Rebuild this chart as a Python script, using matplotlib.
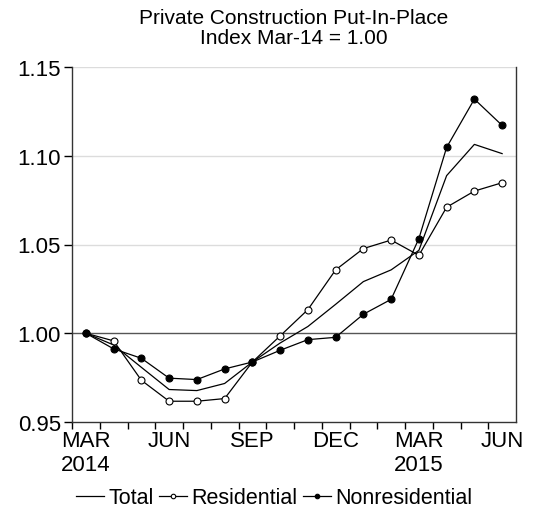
import matplotlib
matplotlib.use("Agg")
import matplotlib.pyplot as plt
import numpy as np

plt.rcParams['font.family'] = ['Liberation Sans', 'DejaVu Sans']

months = ["MAR\n2014", "", "", "JUN", "", "", "SEP", "", "", "DEC", "", "", "MAR\n2015", "", "", "JUN"]
total = [1.000, 0.9934, 0.9808, 0.9683, 0.9677, 0.9717, 0.9838, 0.9945, 1.0038, 1.0163,
         1.0291, 1.0357, 1.0467, 1.0888, 1.1064, 1.1012]
residential = [1.000, 0.9957, 0.9735, 0.9617, 0.9617, 0.9632, 0.9838, 0.9985, 1.0133, 1.0357,
               1.0477, 1.0525, 1.0439, 1.0710, 1.0801, 1.0848]
nonresidential = [1.000, 0.9912, 0.9859, 0.9747, 0.9739, 0.9799, 0.9838, 0.9904, 0.9964, 0.9977,
                  1.0107, 1.0191, 1.0533, 1.1047, 1.1319, 1.1171]
yticks = [0.95, 1.00, 1.05, 1.10, 1.15]

fig = plt.figure(figsize=(5.38, 5.10), dpi=100)
ax = fig.add_axes([72/538, 1-423/510, (516-72)/538, (423-68)/510])

x = np.arange(len(months))
for yv in yticks[2:]:
    ax.axhline(yv, color='#dcdcdc', lw=1.0, zorder=0)
ax.axhline(1.0, color='#555555', lw=1.0, zorder=1)

ax.plot(x, total, color='black', lw=0.9, label='Total', zorder=3)
ax.plot(x, residential, color='black', lw=0.9, marker='o', ms=5, mfc='white', mec='black',
        mew=0.8, label='Residential', zorder=3)
ax.plot(x, nonresidential, color='black', lw=0.9, marker='o', ms=5, mfc='black', mec='black',
        mew=0.8, label='Nonresidential', zorder=3)

ax.set_xlim(-0.5, len(months) - 0.5)
ax.set_ylim(0.95, 1.15)
ax.set_yticks(yticks)
ax.set_yticklabels([f"{v:.2f}" for v in yticks])
ax.set_xticks(x)
ax.set_xticklabels(months)
ax.set_xticks(np.arange(-0.5, len(months) - 1, 1.0), minor=True)
ax.tick_params(axis='x', which='major', length=0, labelsize=16, pad=6)
ax.tick_params(axis='x', which='minor', length=5, width=1, direction='out', color='black')
ax.tick_params(axis='y', length=6, width=1, labelsize=16, pad=2, color='black')
for lbl in ax.get_xticklabels():
    lbl.set_linespacing(1.15)

ax.spines['top'].set_visible(False)
for s in ['left', 'bottom', 'right']:
    ax.spines[s].set_color('#333333')
    ax.spines[s].set_linewidth(1.0)

fig.text(294/538, 1-9/510, "Private Construction Put-In-Place\nIndex Mar-14 = 1.00",
         ha='center', va='top', fontsize=15, linespacing=1.08)

fig.legend(loc='center', bbox_to_anchor=(274/538, 1-499/510), ncol=3, frameon=False,
           fontsize=15.5, handlelength=1.3, handletextpad=0.2, columnspacing=0.25,
           markerscale=0.65, borderpad=0)

fig.savefig("out.png", dpi=100)
